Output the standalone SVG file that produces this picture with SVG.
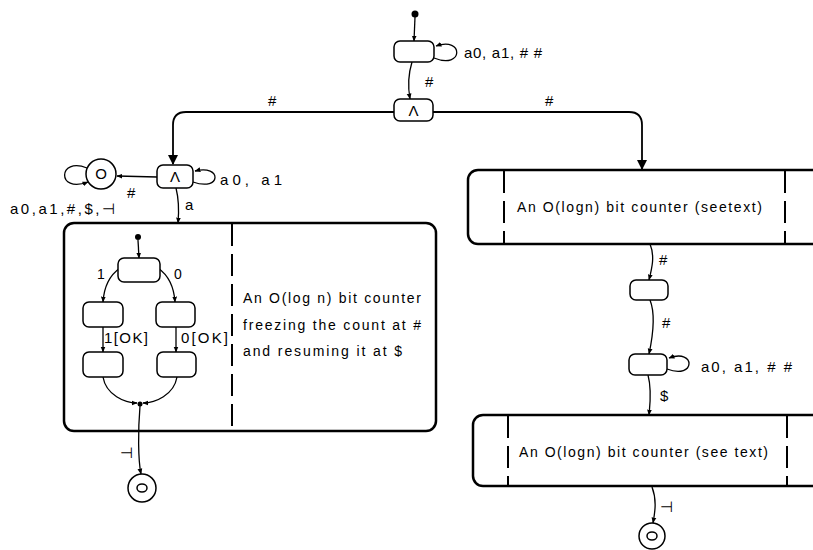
<svg xmlns="http://www.w3.org/2000/svg" width="813" height="550" viewBox="0 0 813 550">
<defs>
<marker id="ah" viewBox="0 0 10 10" refX="9" refY="5" markerWidth="6" markerHeight="6" markerUnits="userSpaceOnUse" orient="auto"><path d="M0,1 L10,5 L0,9 Z" fill="#000"/></marker>
<marker id="big" viewBox="0 0 10 10" refX="9" refY="5" markerWidth="12" markerHeight="10" markerUnits="userSpaceOnUse" orient="auto"><path d="M0,0 L10,5 L0,10 Z" fill="#000"/></marker>
</defs>
<style>
.st{fill:#fff;stroke:#000;stroke-width:1.5}
.big{fill:none;stroke:#000;stroke-width:2.5}
.dash{stroke:#000;stroke-width:2;stroke-dasharray:22 8;fill:none}
.e{fill:none;stroke:#000;stroke-width:1.3;marker-end:url(#ah)}
.eb{fill:none;stroke:#000;stroke-width:1.8;marker-end:url(#big)}
text{font-family:"Liberation Sans",Arial,sans-serif;font-size:15px;fill:#000}
.c{text-anchor:middle}
.t{font-size:14px}
</style>
<rect width="813" height="550" fill="#fff"/>
<g id="connectors">
<path class="e" d="M415,17 L414,41"/>
<path class="e" d="M434,58 C464,70 464,36 436,46"/>
<path class="e" d="M412,62 C408,75 408,88 410,99"/>
<path class="eb" d="M394,112 L186,112 Q173,112 173,125 L173,164"/>
<path class="eb" d="M433,112 L629,112 Q642,112 642,125 L642,169"/>
<path class="e" d="M193,182 C222,192 222,164 195,171"/>
<path class="e" d="M157,177 L117,176"/>
<path class="e" d="M87,168 C58,156 56,194 88,182"/>
<path class="e" d="M176,188 C179,200 179,212 178,223"/>
<path class="e" d="M138,240 L139,258"/>
<path class="e" d="M120,268 C110,275 104,287 103,302"/>
<path class="e" d="M158,268 C168,275 174,287 175,302"/>
<path class="e" d="M103,327 L103,352"/>
<path class="e" d="M176,327 L176,352"/>
<path class="e" d="M103,377 C106,395 125,403 137,403"/>
<path class="e" d="M177,377 C174,395 155,403 143,403"/>
<path class="e" d="M140,406 C138,430 138,460 141,474"/>
<path class="e" d="M650,244 C655,256 652,268 649,280"/>
<path class="e" d="M650,300 C656,315 652,340 649,354"/>
<path class="e" d="M667,369 C696,380 696,348 669,358"/>
<path class="e" d="M648,375 C652,390 650,405 649,415"/>
<path class="e" d="M652,487 C657,500 655,512 653,523"/>
</g>
<g id="labels">
<text x="464" y="58" textLength="78">a0, a1, # #</text>
<text x="425" y="87">#</text>
<text x="268" y="106">#</text>
<text x="545" y="106">#</text>
<text x="220" y="185" textLength="62">a0, a1</text>
<text x="127" y="198">#</text>
<text x="10" y="214" textLength="105">a0,a1,#,$,⊣</text>
<text x="185" y="210">a</text>
<text x="97" y="279" class="t">1</text>
<text x="174" y="279" class="t">0</text>
<text x="104" y="343" font-size="13" textLength="44">1[OK]</text>
<text x="181" y="343" font-size="13" textLength="47">0[OK]</text>
<text x="120" y="458">⊣</text>
<text x="659" y="265">#</text>
<text x="662" y="328">#</text>
<text x="701" y="372" textLength="91">a0, a1, # #</text>
<text x="660" y="401">$</text>
<text x="660" y="512">⊣</text>
</g>
<g id="n_init"><circle cx="415" cy="14" r="3.5"/></g>
<g id="n_top"><rect class="st" x="394" y="41" width="40" height="21" rx="6"/></g>
<g id="n_and1"><rect class="st" x="394" y="99" width="39" height="22" rx="6"/><text class="c" x="413.5" y="116">Λ</text></g>
<g id="n_and2"><rect class="st" x="157" y="165" width="36" height="23" rx="6"/><text class="c" x="175" y="182">Λ</text></g>
<g id="n_reject"><circle class="st" cx="101" cy="174" r="15"/><text class="c" x="101" y="179">O</text></g>
<g id="n_counter1">
<rect class="big" x="64" y="223" width="372" height="208" rx="10"/>
<line class="dash" x1="232" y1="224" x2="232" y2="430"/>
<circle cx="138" cy="237" r="3"/>
<rect class="st" x="118" y="258" width="42" height="24" rx="6"/>
<rect class="st" x="83" y="302" width="40" height="25" rx="6"/>
<rect class="st" x="156" y="302" width="39" height="25" rx="6"/>
<rect class="st" x="83" y="352" width="40" height="25" rx="6"/>
<rect class="st" x="157" y="352" width="39" height="25" rx="6"/>
<circle cx="140" cy="404" r="2.5"/>
<text x="243" y="303" class="t" textLength="178">An O(log n) bit counter</text>
<text x="243" y="330" class="t" textLength="178">freezing the count at #</text>
<text x="243" y="356" class="t" textLength="159">and resuming it at  $</text>
</g>
<g id="n_final1"><circle class="st" cx="142" cy="488" r="14"/><ellipse cx="142" cy="488" rx="5" ry="4" fill="none" stroke="#000" stroke-width="1.5"/></g>
<g id="n_counter2">
<rect class="big" x="468" y="170" width="380" height="74" rx="10"/>
<line class="dash" x1="504" y1="171" x2="504" y2="243"/>
<line class="dash" x1="785" y1="171" x2="785" y2="243"/>
<text x="517" y="212" class="t" textLength="245">An O(logn) bit counter (seetext)</text>
</g>
<g id="n_mid1"><rect class="st" x="630" y="280" width="38" height="20" rx="6"/></g>
<g id="n_mid2"><rect class="st" x="629" y="354" width="38" height="21" rx="6"/></g>
<g id="n_counter3">
<rect class="big" x="473" y="415" width="380" height="71" rx="10"/>
<line class="dash" x1="508" y1="416" x2="508" y2="485"/>
<line class="dash" x1="787" y1="416" x2="787" y2="485"/>
<text x="519" y="457" class="t" textLength="249">An O(logn) bit counter (see text)</text>
</g>
<g id="n_final2"><circle class="st" cx="652" cy="536" r="13"/><ellipse cx="652" cy="536" rx="5" ry="4" fill="none" stroke="#000" stroke-width="1.5"/></g>
</svg>
